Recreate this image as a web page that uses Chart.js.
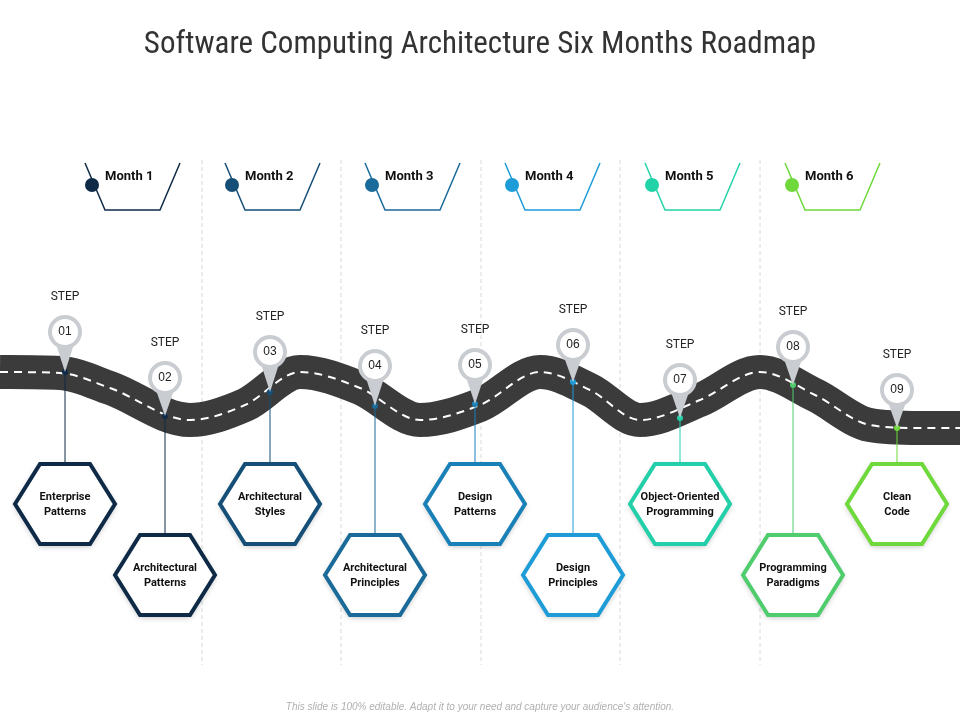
<!DOCTYPE html>
<html><head><meta charset="utf-8">
<script src="https://cdn.jsdelivr.net/npm/chart.js@4"></script>
<style>html,body{margin:0;padding:0;background:#fff}#wrap{width:960px;height:720px}</style>
</head><body><div id="wrap"><canvas id="c"></canvas></div>
<script>
const title = "Software Computing Architecture Six Months Roadmap";
const footer = "This slide is 100% editable. Adapt it to your need and capture your audience's attention.";
const months = ["Month 1","Month 2","Month 3","Month 4","Month 5","Month 6"];
const monthX = [130,270,410,550,690,830];
const monthColors = ["#0e2a47","#154f78","#1a6a9a","#1e9cd8","#22d3a8","#6fd83a"];
const dividerX = [202,341,481,620,760];
const roadX = [0,60,110,190,245,300,360,420,480,540,590,640,700,760,815,870,920,960];
const roadY = [372,373,388,420,405,372,388,420,405,372,390,420,400,372,395,425,428,428];
const stepNums = ["01","02","03","04","05","06","07","08","09"];
const stepX = [65,165,270,375,475,573,680,793,897];
const pinY = [332,378,352,366,365,345,380,347,390];
const tipY = [372,416,392,406,404,382,418,385,428];
const hexY = [504,575,504,575,504,575,504,575,504];
const hexLabels = [["Enterprise","Patterns"],["Architectural","Patterns"],["Architectural","Styles"],["Architectural","Principles"],["Design","Patterns"],["Design","Principles"],["Object-Oriented","Programming"],["Programming","Paradigms"],["Clean","Code"]];
const stepColors = ["#0e2a47","#0e2a47","#154f78","#1a6a9a","#1a80b8","#1e9cd8","#22cfa8","#4fcc6c","#6fd83a"];

const deco = {
  id:'deco',
  beforeDatasetsDraw(ch){
    const c=ch.ctx, X=v=>ch.scales.x.getPixelForValue(v), Y=v=>ch.scales.y.getPixelForValue(v);
    c.save();
    c.fillStyle='#333';c.textAlign='center';c.textBaseline='middle';
    c.font='31px "Liberation Sans Narrow","Roboto Condensed",Roboto,sans-serif';
    c.fillText(title,X(480),Y(45));
    c.font='italic 10px "Liberation Sans",Arial,sans-serif';c.fillStyle='#b0b0b0';
    c.fillText(footer,X(480),Y(707));
    c.strokeStyle='#d8d8d8';c.lineWidth=1;c.setLineDash([4,3]);
    dividerX.forEach(x=>{c.beginPath();c.moveTo(X(x),Y(160));c.lineTo(X(x),Y(665));c.stroke();});
    c.setLineDash([]);
    months.forEach((m,i)=>{
      const cx=X(monthX[i]),col=monthColors[i];
      c.strokeStyle=col;c.lineWidth=1.5;c.beginPath();
      c.moveTo(cx-45,Y(163));c.lineTo(cx-25,Y(210));c.lineTo(cx+30,Y(210));c.lineTo(cx+50,Y(163));c.stroke();
      c.fillStyle=col;c.beginPath();c.arc(cx-38,Y(185),7,0,Math.PI*2);c.fill();
      c.fillStyle='#111';c.font='bold 13px "Liberation Sans Narrow",Roboto,sans-serif';c.textAlign='left';
      c.fillText(m,cx-25,Y(177));
    });
    c.restore();
  },
  afterDatasetsDraw(ch){
    const c=ch.ctx, X=v=>ch.scales.x.getPixelForValue(v), Y=v=>ch.scales.y.getPixelForValue(v);
    c.save();c.textAlign='center';c.textBaseline='middle';
    stepNums.forEach((n,i)=>{
      const x=X(stepX[i]),py=Y(pinY[i]),ty=Y(tipY[i]),hy=Y(hexY[i]),col=stepColors[i];
      c.strokeStyle=col;c.lineWidth=1;c.beginPath();c.moveTo(x,ty);c.lineTo(x,hy-40);c.stroke();
      c.fillStyle=col;c.beginPath();c.arc(x,ty,3,0,Math.PI*2);c.fill();
      c.fillStyle='#c9ccd0';c.beginPath();c.arc(x,py,17,0,Math.PI*2);c.fill();
      c.beginPath();c.moveTo(x-9,py+12);c.lineTo(x,ty);c.lineTo(x+9,py+12);c.fill();
      c.fillStyle='#fff';c.beginPath();c.arc(x,py,13,0,Math.PI*2);c.fill();
      c.fillStyle='#222';c.font='12px "Liberation Sans",Arial,sans-serif';c.fillText(n,x,py);
      c.fillStyle='#222';c.font='12px "Liberation Sans Narrow",Roboto,sans-serif';c.fillText('STEP',x,py-35);
      c.shadowColor='rgba(0,0,0,0.3)';c.shadowBlur=6;c.shadowOffsetY=2;
      c.fillStyle='#fff';c.strokeStyle=col;c.lineWidth=4;c.beginPath();
      c.moveTo(x-50,hy);c.lineTo(x-25,hy-40);c.lineTo(x+25,hy-40);c.lineTo(x+50,hy);c.lineTo(x+25,hy+40);c.lineTo(x-25,hy+40);c.closePath();
      c.fill();c.shadowColor='transparent';c.stroke();
      c.fillStyle='#111';c.font='bold 11px "Liberation Sans Narrow",Roboto,sans-serif';
      c.fillText(hexLabels[i][0],x,hy-7);c.fillText(hexLabels[i][1],x,hy+8);
    });
    c.restore();
  }
};
const pts=roadX.map((x,i)=>({x,y:roadY[i]}));
new Chart(document.getElementById('c'),{
  type:'scatter',
  data:{datasets:[
    {data:pts,order:2,showLine:true,borderColor:'#3b3b3b',borderWidth:34,pointRadius:0,tension:0.4,cubicInterpolationMode:'monotone'},
    {data:pts,order:1,showLine:true,borderColor:'#ffffff',borderWidth:2,borderDash:[8,6],pointRadius:0,tension:0.4,cubicInterpolationMode:'monotone'}
  ]},
  options:{responsive:true,maintainAspectRatio:false,animation:false,
    layout:{padding:0},
    plugins:{legend:{display:false},tooltip:{enabled:false}},
    scales:{x:{type:'linear',min:0,max:960,display:false},y:{type:'linear',min:0,max:720,reverse:true,display:false}}},
  plugins:[deco]
});
</script></body></html>
